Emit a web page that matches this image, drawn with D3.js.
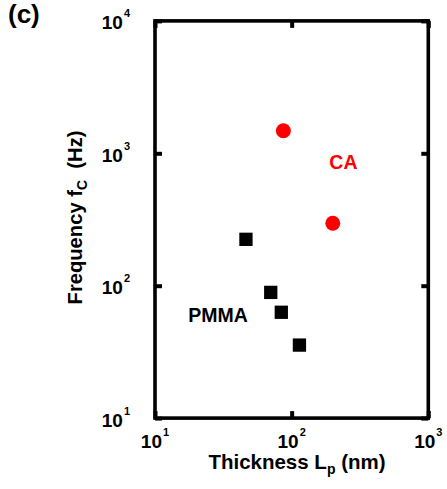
<!DOCTYPE html>
<html>
<head>
<meta charset="utf-8">
<script src="https://cdn.jsdelivr.net/npm/d3@7"></script>
<style>
  html, body { margin: 0; padding: 0; background: #fff; }
  svg { display: block; font-family: "Liberation Sans", Arial, sans-serif; font-weight: bold; }
</style>
</head>
<body>
<svg id="chart" width="447" height="489"></svg>
<script>
// Cutoff frequency versus film thickness
const caThickness = [87, 200];
const caFrequency = [1480, 296];
const pmmaThickness = [46.3, 70.3, 84, 114];
const pmmaFrequency = [224, 89, 63, 35.6];
const xTickExponents = [1, 2, 3];
const yTickExponents = [1, 2, 3, 4];

const svg = d3.select("#chart");
const plotLeft = 155, plotRight = 428.3, plotTop = 20.9, plotBottom = 418.1;

const x = d3.scaleLog().domain([10, 1000]).range([plotLeft, plotRight]);
const y = d3.scaleLog().domain([10, 10000]).range([plotBottom, plotTop]);

// Inward ticks on all four sides
const tickLen = 7;
const xTicks = xTickExponents.map(e => Math.pow(10, e));
const yTicks = yTickExponents.map(e => Math.pow(10, e));

function styleTicks(g) {
  g.select(".domain").remove();
  g.selectAll("line").attr("stroke", "#000").attr("stroke-width", 4);
}

svg.append("g").attr("transform", `translate(0,${plotBottom})`)
  .call(d3.axisBottom(x).tickValues(xTicks).tickSizeInner(-tickLen).tickSizeOuter(0).tickFormat(""))
  .call(styleTicks);
svg.append("g").attr("transform", `translate(0,${plotTop})`)
  .call(d3.axisTop(x).tickValues(xTicks).tickSizeInner(-tickLen).tickSizeOuter(0).tickFormat(""))
  .call(styleTicks);
svg.append("g").attr("transform", `translate(${plotLeft},0)`)
  .call(d3.axisLeft(y).tickValues(yTicks).tickSizeInner(-tickLen).tickSizeOuter(0).tickFormat(""))
  .call(styleTicks);
svg.append("g").attr("transform", `translate(${plotRight},0)`)
  .call(d3.axisRight(y).tickValues(yTicks).tickSizeInner(-tickLen).tickSizeOuter(0).tickFormat(""))
  .call(styleTicks);

// Frame
svg.append("rect")
  .attr("x", plotLeft).attr("y", plotTop)
  .attr("width", plotRight - plotLeft).attr("height", plotBottom - plotTop)
  .attr("fill", "none").attr("stroke", "#000").attr("stroke-width", 3.6);

// Power-of-ten tick labels
function powerLabel(sel, exp) {
  sel.append("tspan").text("10");
  sel.append("tspan").attr("font-size", 11).attr("dy", -12).attr("dx", 1).text(exp);
}

xTickExponents.forEach(e => {
  const t = svg.append("text")
    .attr("x", x(Math.pow(10, e))).attr("y", 448)
    .attr("text-anchor", "middle").attr("font-size", 19).attr("fill", "#000");
  powerLabel(t, e);
});

yTickExponents.forEach(e => {
  const t = svg.append("text")
    .attr("x", 130).attr("y", y(Math.pow(10, e)) + 8.4)
    .attr("text-anchor", "end").attr("font-size", 19).attr("fill", "#000");
  powerLabel(t, e);
});

// Axis titles
const xt = svg.append("text")
  .attr("x", 297).attr("y", 469)
  .attr("text-anchor", "middle").attr("font-size", 20.5).attr("fill", "#000");
xt.append("tspan").text("Thickness L");
xt.append("tspan").attr("font-size", 14).attr("dy", 5).text("p");
xt.append("tspan").attr("dy", -5).text(" (nm)");

const yt = svg.append("text")
  .attr("transform", "translate(82,217.5) rotate(-90)")
  .attr("text-anchor", "middle").attr("font-size", 20.2).attr("fill", "#000")
  .attr("xml:space", "preserve");
yt.append("tspan").text("Frequency f");
yt.append("tspan").attr("font-size", 14).attr("dy", 5).text("C");
yt.append("tspan").attr("dy", -5).text("  (Hz)");

// Panel label
svg.append("text").attr("x", 8).attr("y", 23)
  .attr("font-size", 26).attr("fill", "#000").text("(c)");

// Data markers
const ca = caThickness.map((t, i) => ({ t, f: caFrequency[i] }));
const pmma = pmmaThickness.map((t, i) => ({ t, f: pmmaFrequency[i] }));

svg.append("g").selectAll("circle").data(ca).join("circle")
  .attr("cx", d => x(d.t)).attr("cy", d => y(d.f))
  .attr("r", 7.5).attr("fill", "#ff0000");

const side = 13.3;
svg.append("g").selectAll("rect").data(pmma).join("rect")
  .attr("x", d => x(d.t) - side / 2).attr("y", d => y(d.f) - side / 2)
  .attr("width", side).attr("height", side).attr("fill", "#000");

// Series labels
svg.append("text").attr("x", 329.3).attr("y", 169)
  .attr("font-size", 19.5).attr("fill", "#ff0000").text("CA");
svg.append("text").attr("x", 188.3).attr("y", 321.7)
  .attr("font-size", 19.5).attr("fill", "#000").text("PMMA");
</script>
</body>
</html>
